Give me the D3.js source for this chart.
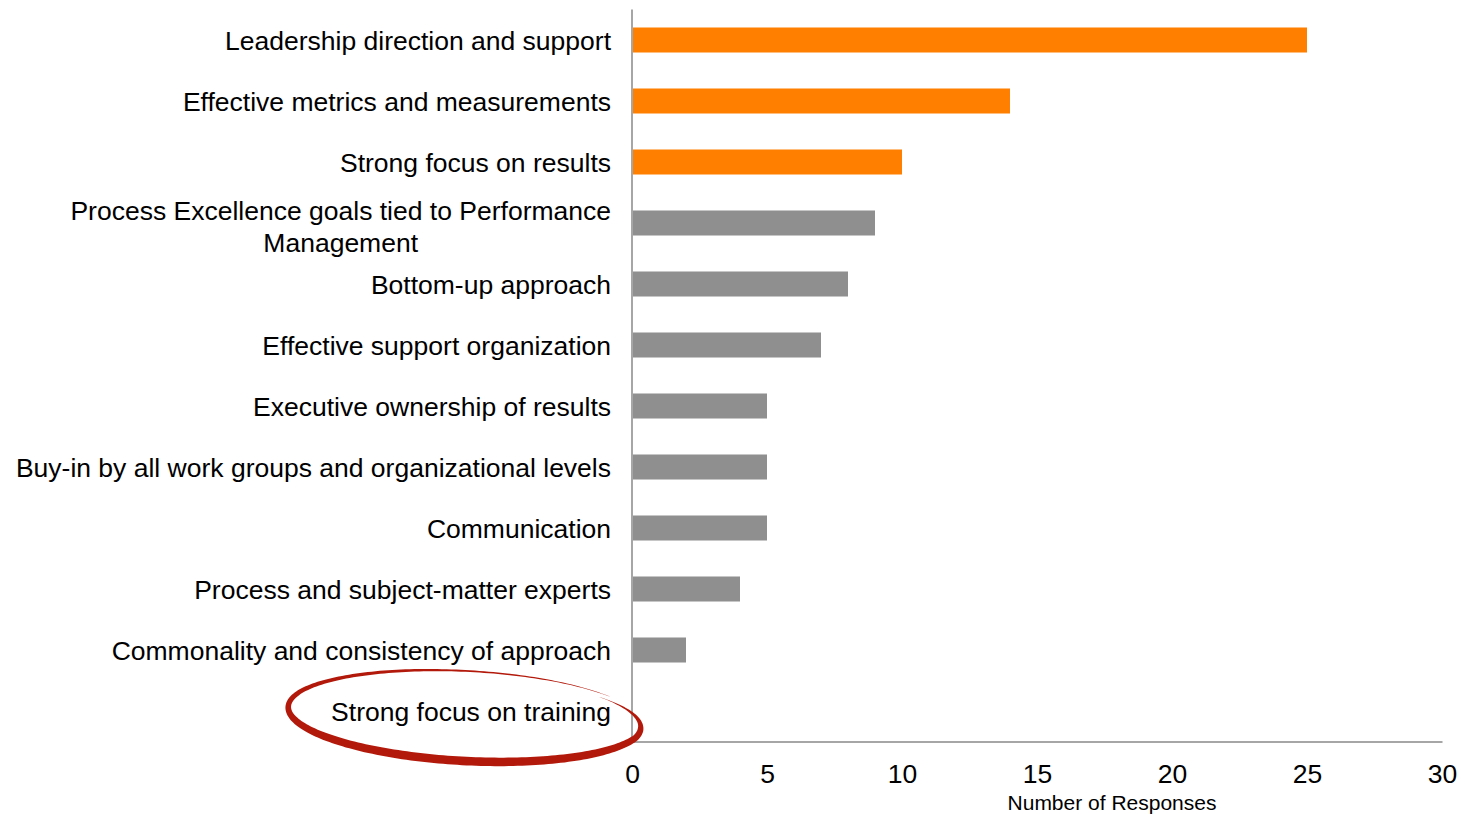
<!DOCTYPE html>
<html>
<head>
<meta charset="utf-8">
<script src="https://cdn.jsdelivr.net/npm/d3@7"></script>
<style>
  html, body { margin: 0; padding: 0; background: #fff; }
  svg { display: block; }
  text { font-family: "Liberation Sans", Arial, Helvetica, sans-serif; fill: #000; }
</style>
</head>
<body>
<svg id="chart" width="1465" height="814"></svg>
<script>
// Survey results: factors cited as critical to process excellence
const categories = [
  "Leadership direction and support",
  "Effective metrics and measurements",
  "Strong focus on results",
  "Process Excellence goals tied to Performance Management",
  "Bottom-up approach",
  "Effective support organization",
  "Executive ownership of results",
  "Buy-in by all work groups and organizational levels",
  "Communication",
  "Process and subject-matter experts",
  "Commonality and consistency of approach",
  "Strong focus on training"
];
const responses = [25, 14, 10, 9, 8, 7, 5, 5, 5, 4, 2, 0];
const highlighted = [true, true, true, false, false, false, false, false, false, false, false, false];
const xTicks = [0, 5, 10, 15, 20, 25, 30];
const xTitle = "Number of Responses";
const circledCategory = "Strong focus on training";

// Label lines for categories that wrap onto two lines
const wrappedLabels = {
  "Process Excellence goals tied to Performance Management":
    ["Process Excellence goals tied to Performance", "Management"]
};

const svg = d3.select("#chart");
const plotLeft = 632, plotRight = 1442, plotTop = 9.5, plotBottom = 741.5;

const x = d3.scaleLinear().domain([0, 30]).range([plotLeft, plotRight]);
const y = d3.scaleBand().domain(categories).range([plotTop, plotBottom])
  .paddingInner(0.59).paddingOuter(0.295);

const colorOf = i => highlighted[i] ? "#ff7f00" : "#8f8f8f";

// Bars
svg.append("g").selectAll("rect")
  .data(categories)
  .join("rect")
  .attr("x", x(0))
  .attr("y", d => y(d))
  .attr("width", (d, i) => x(responses[i]) - x(0))
  .attr("height", y.bandwidth())
  .attr("fill", (d, i) => colorOf(i));

// X axis (no tick marks, grey baseline)
const xAxis = svg.append("g")
  .attr("transform", `translate(0,${plotBottom})`)
  .call(d3.axisBottom(x).tickValues(xTicks).tickSize(0).tickPadding(23).tickFormat(d3.format("d")));
xAxis.select(".domain").attr("stroke", "#a6a6a6").attr("stroke-width", 2);
xAxis.selectAll(".tick text")
  .attr("font-size", 26.5)
  .attr("font-family", "Liberation Sans, Arial, sans-serif")
  .attr("fill", "#000");

// Y axis line
svg.append("line")
  .attr("x1", plotLeft).attr("x2", plotLeft)
  .attr("y1", plotTop).attr("y2", plotBottom)
  .attr("stroke", "#a6a6a6").attr("stroke-width", 2);

// Category labels
const labelX = plotLeft - 21;
const labels = svg.append("g").selectAll("text")
  .data(categories)
  .join("text")
  .attr("font-size", 26.5)
  .attr("text-anchor", "end")
  .attr("x", labelX)
  .attr("y", d => y(d) + y.bandwidth() / 2 + 1)
  .attr("dy", "0.35em");

labels.each(function (d) {
  const t = d3.select(this);
  const lines = wrappedLabels[d];
  if (!lines) { t.text(d); return; }
  t.attr("dy", null);
  const cy = y(d) + y.bandwidth() / 2;
  const first = t.append("tspan").attr("x", labelX).attr("y", cy - 3).text(lines[0]);
  const w = first.node().getComputedTextLength();
  t.append("tspan")
    .attr("text-anchor", "middle")
    .attr("x", labelX - w / 2)
    .attr("y", cy + 29)
    .text(lines[1]);
});

// Axis title
svg.append("text")
  .attr("x", 1112)
  .attr("y", 810)
  .attr("text-anchor", "middle")
  .attr("font-size", 21)
  .text(xTitle);

// Hand-drawn red ring around the circled category label
(function drawRing() {
  const cy = y(circledCategory) + y.bandwidth() / 2 + 5;
  const cx = 466, rx = 178, ry = 45, rot = 3 * Math.PI / 180;
  const t0 = -35 * Math.PI / 180, t1 = -398 * Math.PI / 180;
  const n = 240;
  const outer = [], inner = [];
  for (let k = 0; k <= n; k++) {
    const s = k / n;
    const t = t0 + (t1 - t0) * s;
    const shrink = 1 - 0.06 * Math.max(0, (s - 0.85) / 0.15);
    const ex = rx * shrink * Math.cos(t), ey = ry * shrink * Math.sin(t);
    const px = cx + ex * Math.cos(rot) - ey * Math.sin(rot);
    const py = cy + ex * Math.sin(rot) + ey * Math.cos(rot);
    const dx = -rx * Math.sin(t), dy = ry * Math.cos(t);
    const len = Math.hypot(dx, dy);
    const nx = dy / len, ny = -dx / len;
    const taper = Math.min(1, s / 0.22) * Math.min(1, (1 - s) / 0.12);
    const w = (2.6 + 3.0 * (1 + Math.sin(t))) * taper;
    outer.push([px + nx * w / 2, py + ny * w / 2]);
    inner.push([px - nx * w / 2, py - ny * w / 2]);
  }
  const pts = outer.concat(inner.reverse());
  svg.append("path")
    .attr("d", d3.line().curve(d3.curveLinearClosed)(pts))
    .attr("fill", "#b3190b");
})();
</script>
</body>
</html>
